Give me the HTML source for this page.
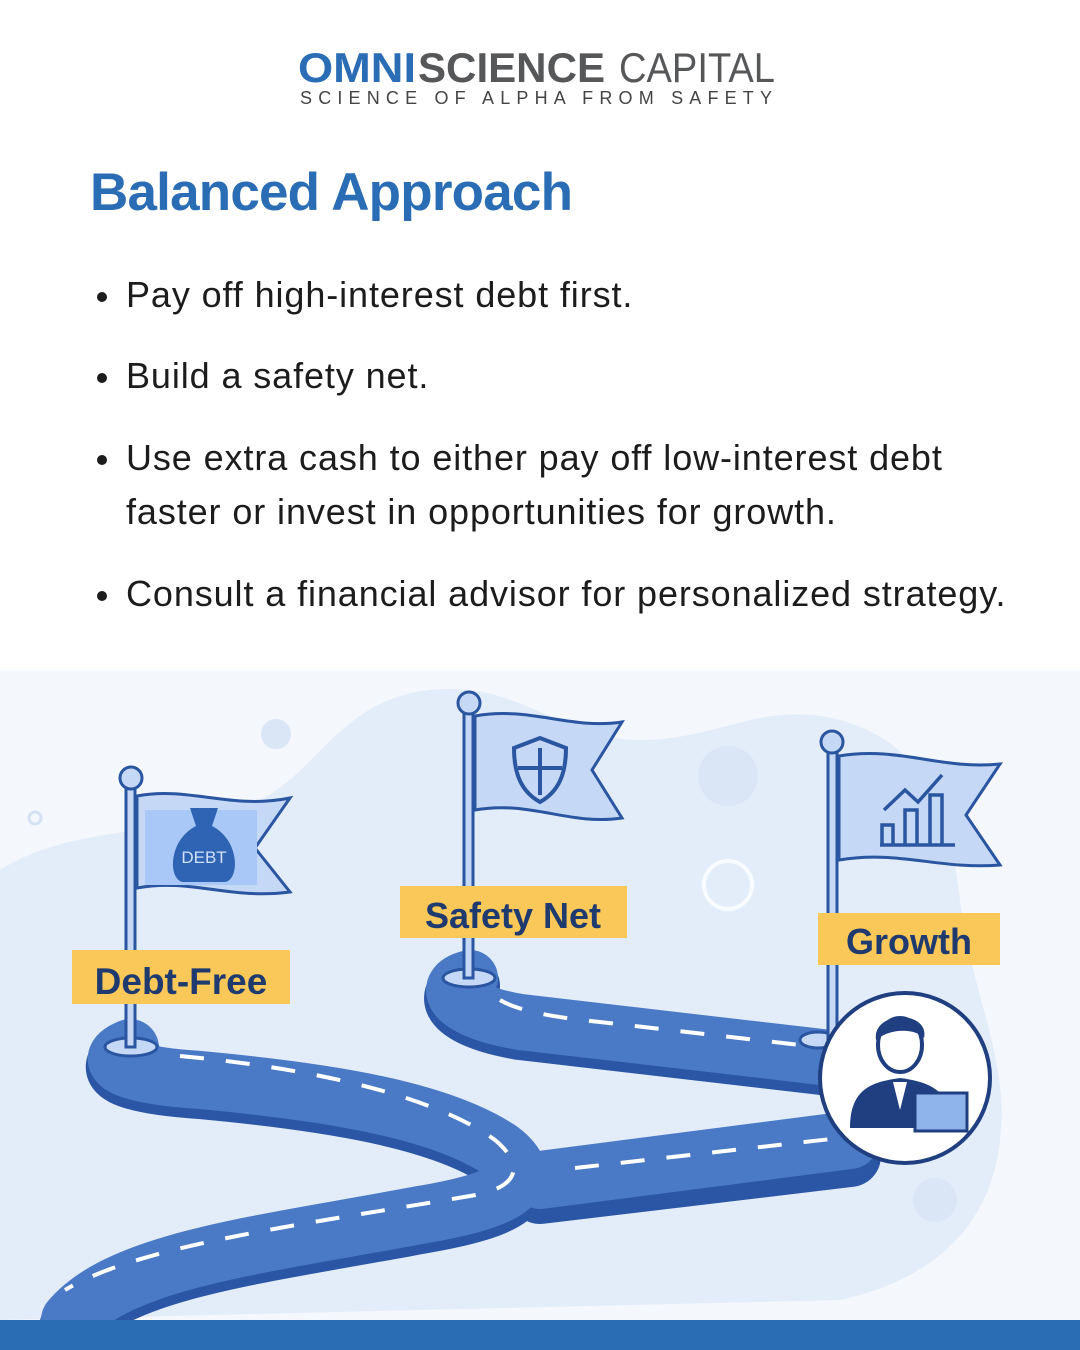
<!DOCTYPE html>
<html><head><meta charset="utf-8"><style>
html,body{margin:0;padding:0;background:#fff;}
body{width:1080px;height:1350px;position:relative;overflow:hidden;font-family:"Liberation Sans",sans-serif;}
.t{position:absolute;left:90px;top:162px;font-size:53px;font-weight:bold;color:#2a6db5;margin:0;letter-spacing:-0.8px;}
.b{position:absolute;left:126px;font-size:36px;color:#1c1c1c;line-height:54px;letter-spacing:0.9px;}
.b:before{content:"";position:absolute;left:-29px;top:24px;width:10px;height:10px;border-radius:50%;background:#1c1c1c;}
</style></head><body>
<svg width="1080" height="130" style="position:absolute;left:0;top:0">
<text x="298" y="82" font-family="Liberation Sans" font-weight="bold" font-size="42" fill="#2a6db5" textLength="118" lengthAdjust="spacingAndGlyphs">OMNI</text>
<text x="418" y="82" font-family="Liberation Sans" font-weight="bold" font-size="42" fill="#555759" textLength="187" lengthAdjust="spacingAndGlyphs">SCIENCE</text>
<text x="619" y="82" font-family="Liberation Sans" font-size="42" fill="#555759" textLength="156" lengthAdjust="spacingAndGlyphs">CAPITAL</text>
<text x="300" y="104" font-family="Liberation Sans" font-size="18" fill="#444" textLength="472" lengthAdjust="spacing">SCIENCE OF ALPHA FROM SAFETY</text>
</svg>
<h1 class="t">Balanced Approach</h1>
<div class="b" style="top:268px">Pay off high-interest debt first.</div>
<div class="b" style="top:349px">Build a safety net.</div>
<div class="b" style="top:431px">Use extra cash to either pay off low-interest debt<br>faster or invest in opportunities for growth.</div>
<div class="b" style="top:567px">Consult a financial advisor for personalized strategy.</div>

<svg width="1080" height="680" viewBox="0 670 1080 680" style="position:absolute;left:0;top:670px">
<rect x="0" y="670" width="1080" height="650" fill="#f4f7fc"/>
<path d="M0 870 C80 820 180 840 260 800 C320 770 340 700 430 690 C520 680 560 740 640 740 C720 740 760 700 840 720 C930 745 950 820 960 900 C970 990 1010 1060 1000 1140 C990 1230 930 1280 840 1300 L0 1320 Z" fill="#e3ecf9"/>
<circle cx="276" cy="734" r="15" fill="#dae5f6"/><circle cx="728" cy="776" r="30" fill="#dae5f6"/><circle cx="935" cy="1200" r="22" fill="#dae5f6"/>
<circle cx="35" cy="818" r="6" fill="none" stroke="#d5e1f3" stroke-width="3"/>
<circle cx="728" cy="885" r="24" fill="none" stroke="#f8fbff" stroke-width="4"/>
<g fill="none" stroke-linecap="round" stroke-linejoin="round">
<path d="M470 978 C440 985 450 1010 520 1022 L830 1058" stroke="#2b56a6" stroke-width="60" transform="translate(0,8)"/>
<path d="M470 978 C440 985 450 1010 520 1022 L830 1058" stroke="#4a79c6" stroke-width="56"/>
<path d="M130 1048 C100 1060 120 1075 200 1080 C330 1092 440 1110 500 1150 C540 1180 510 1200 420 1215 C260 1245 120 1260 70 1320 M540 1185 L850 1148" stroke="#2b56a6" stroke-width="62" transform="translate(0,8)"/>
<path d="M130 1048 C100 1060 120 1075 200 1080 C330 1092 440 1110 500 1150 C540 1180 510 1200 420 1215 C260 1245 120 1260 70 1320 M540 1180 L850 1140" stroke="#4a79c6" stroke-width="58"/>
<g stroke="#fff" stroke-width="4" stroke-dasharray="24 22" stroke-linecap="butt">
<path d="M500 1000 C520 1012 560 1018 600 1022 L800 1045"/>
<path d="M180 1056 C330 1070 440 1100 495 1140 C525 1165 520 1188 470 1196 C300 1225 140 1245 65 1290"/>
<path d="M575 1168 L840 1138"/>
</g></g>
<g fill="#c5d8f5" stroke="#2a55a0" stroke-width="3">
<ellipse cx="131" cy="1047" rx="26" ry="9"/><ellipse cx="469" cy="978" rx="26" ry="9"/><ellipse cx="818" cy="1040" rx="18" ry="8"/>
<rect x="126" y="785" width="9" height="262"/><rect x="464" y="710" width="9" height="268"/><rect x="828" y="750" width="9" height="290"/>
<circle cx="131" cy="778" r="11"/><circle cx="469" cy="703" r="11"/><circle cx="832" cy="742" r="11"/>
<path d="M137 796 C190 786 230 810 290 798 L255 848 L290 892 C230 900 190 878 137 888 Z"/>
<path d="M475 716 C530 706 570 730 622 722 L592 770 L622 818 C570 826 530 800 475 810 Z"/>
<path d="M839 756 C900 746 940 770 1000 764 L966 815 L1000 865 C940 870 900 850 839 860 Z"/>
</g>
<rect x="145" y="810" width="112" height="75" fill="#a9c8f7"/>
<path d="M190 808 L218 808 L212 826 C240 840 240 880 225 882 L183 882 C168 880 168 840 196 826 Z" fill="#2f64b4"/>
<text x="204" y="863" font-family="Liberation Sans" font-size="17" fill="#cfe0fb" text-anchor="middle">DEBT</text>
<path d="M540 738 L566 748 C566 775 558 792 540 802 C522 792 514 775 514 748 Z M540 748 V795 M518 768 H562" fill="none" stroke="#2a55a0" stroke-width="4"/>
<path d="M880 845 H955 M882 845 V825 H893 V845 M905 845 V810 H917 V845 M930 845 V795 H942 V845 M884 810 L905 790 L918 802 L942 775" fill="none" stroke="#2a55a0" stroke-width="3.5"/>
<rect x="72" y="950" width="218" height="54" fill="#fac858"/>
<text x="181" y="994" font-family="Liberation Sans" font-weight="bold" font-size="37" fill="#1f3a6e" text-anchor="middle">Debt-Free</text>
<rect x="400" y="886" width="227" height="52" fill="#fac858"/>
<text x="513" y="928" font-family="Liberation Sans" font-weight="bold" font-size="36" fill="#1f3a6e" text-anchor="middle">Safety Net</text>
<rect x="818" y="913" width="182" height="52" fill="#fac858"/>
<text x="909" y="954" font-family="Liberation Sans" font-weight="bold" font-size="36" fill="#1f3a6e" text-anchor="middle">Growth</text>
<circle cx="905" cy="1078" r="85" fill="#fff" stroke="#1f3f80" stroke-width="4"/>
<ellipse cx="900" cy="1045" rx="22" ry="27" fill="#fff" stroke="#1f3f80" stroke-width="4"/>
<path d="M876 1040 C872 1010 930 1010 924 1038 C915 1028 890 1028 876 1040 Z" fill="#1f3f80"/>
<path d="M850 1128 C850 1090 870 1082 900 1078 C930 1082 950 1090 955 1128 Z" fill="#1f3f80"/>
<path d="M893 1082 L900 1110 L907 1082 Z" fill="#fff"/>
<rect x="915" y="1093" width="52" height="38" fill="#8fb3eb" stroke="#1f3f80" stroke-width="3"/>
</svg>
<div style="position:absolute;left:0;top:1320px;width:1080px;height:30px;background:#2a6db5"></div>
</body></html>
